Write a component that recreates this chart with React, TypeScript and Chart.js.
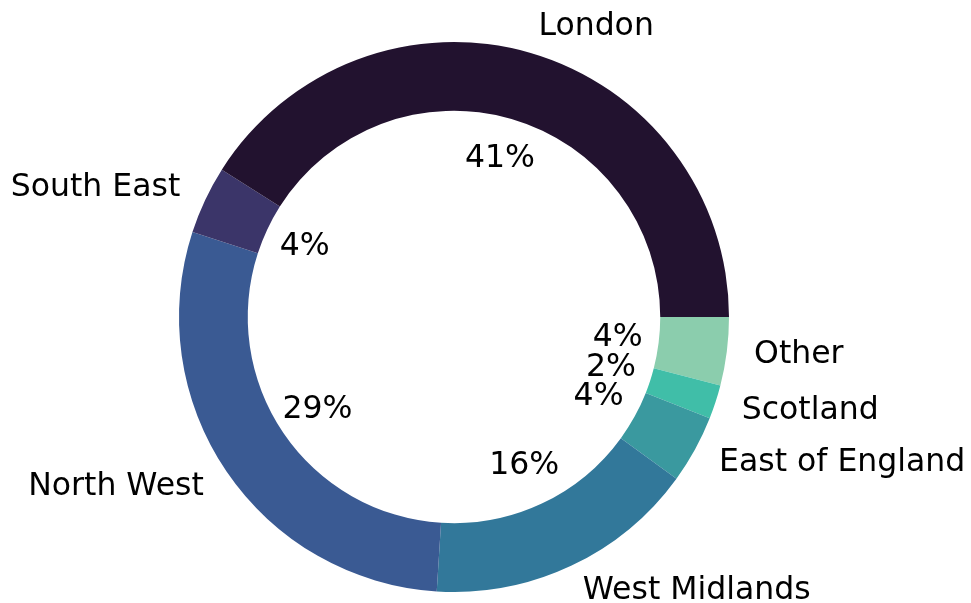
import React, { useEffect, useRef } from "react";
import { Chart, registerables } from "chart.js";

Chart.register(...registerables);

// Data (matplotlib order: counter-clockwise from 3 o'clock)
const regions = ["London", "South East", "North West", "West Midlands", "East of England", "Scotland", "Other"];
const shares = [41, 4, 29, 16, 4, 2, 4];
const colors = ["#22122f", "#3b3569", "#3a5a93", "#32789a", "#3a999f", "#40bea8", "#8bcdad"];

const FONT = '31.5px "DejaVu Sans"';

const labelPlugin = {
  id: "pieLabels",
  afterDraw(chart: any) {
    const ctx = chart.ctx;
    const meta = chart.getDatasetMeta(0);
    const labels: string[] = chart.data.labels;
    const data: number[] = chart.data.datasets[0].data;
    const total = data.reduce((a, b) => a + b, 0);
    ctx.save();
    ctx.font = FONT;
    ctx.fillStyle = "#000000";
    ctx.textBaseline = "middle";
    meta.data.forEach((arc: any, i: number) => {
      const mid = (arc.startAngle + arc.endAngle) / 2;
      const r = arc.outerRadius;
      const cx = arc.x;
      const cy = arc.y;
      const lx = cx + Math.cos(mid) * r * 1.1;
      const ly = cy + Math.sin(mid) * r * 1.1;
      ctx.textAlign = Math.cos(mid) > 0 ? "left" : "right";
      ctx.fillText(labels[i], lx, ly);
      const px = cx + Math.cos(mid) * r * 0.6;
      const py = cy + Math.sin(mid) * r * 0.6;
      ctx.textAlign = "center";
      ctx.fillText(Math.round((data[i] / total) * 100) + "%", px, py);
    });
    ctx.restore();
  },
};

export default function App() {
  const ref = useRef<HTMLCanvasElement | null>(null);
  useEffect(() => {
    if (!ref.current) return;
    // Chart.js draws clockwise; reverse so it matches matplotlib's counter-clockwise order
    const lbls = [...regions].reverse();
    const vals = [...shares].reverse();
    const cols = [...colors].reverse();
    const chart = new Chart(ref.current, {
      type: "doughnut",
      data: {
        labels: lbls,
        datasets: [
          {
            data: vals,
            backgroundColor: cols,
            borderWidth: 0,
            hoverOffset: 0,
          },
        ],
      },
      options: {
        animation: false,
        responsive: false,
        devicePixelRatio: 1,
        events: [],
        rotation: 90,
        cutout: "75%",
        layout: { padding: { left: 179, right: 242, top: 42, bottom: 11 } },
        plugins: {
          legend: { display: false },
          tooltip: { enabled: false },
        },
      },
      plugins: [labelPlugin],
    });
    return () => chart.destroy();
  }, []);
  return (
    <div style={{ position: "absolute", left: 0, top: 0, width: 971, height: 603, background: "#ffffff" }}>
      <canvas ref={ref} width={971} height={603} style={{ width: 971, height: 603 }} />
    </div>
  );
}
